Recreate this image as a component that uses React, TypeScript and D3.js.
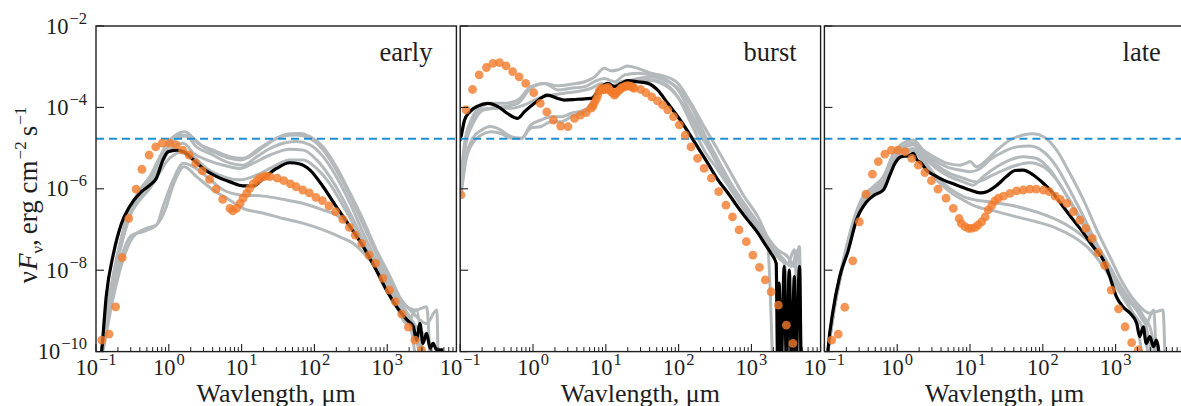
import React from 'react';
import * as d3 from 'd3';

type P = [number, number]; // [log10 wavelength (μm), log10 νFν (erg cm^-2 s^-1)]

const panelLabels = ['early', 'burst', 'late'];
const thresholdFlux = 1.7e-5;
const xMajorExps = [-1, 0, 1, 2, 3];
const yMajorExps = [-2, -4, -6, -8, -10];

// ---------- early ----------
const earlyMedian: P[] = [
  [-0.95, -10.5], [-0.92, -9.96], [-0.86, -8.65], [-0.76, -7.59], [-0.65, -6.85], [-0.54, -6.44], [-0.40, -6.11],
  [-0.26, -5.91], [-0.17, -5.74], [-0.08, -5.29], [-0.01, -5.09], [0.11, -5.05], [0.20, -5.09], [0.34, -5.29],
  [0.47, -5.50], [0.66, -5.70], [0.84, -5.83], [1.02, -5.93], [1.16, -5.93], [1.30, -5.74], [1.48, -5.50],
  [1.66, -5.36], [1.80, -5.39], [1.94, -5.54], [2.12, -5.95], [2.30, -6.44], [2.49, -6.93], [2.67, -7.42],
  [2.85, -8.00], [2.99, -8.49], [3.13, -8.90], [3.27, -9.22], [3.36, -9.39], [3.40, -9.72], [3.45, -9.31],
  [3.49, -9.80], [3.54, -9.55], [3.59, -9.92], [3.63, -9.80], [3.68, -9.96], [3.77, -9.96],
];
const earlyObs: P[] = [
  [-0.92, -9.72], [-0.82, -9.57], [-0.73, -8.90], [-0.64, -7.69], [-0.55, -6.73], [-0.45, -6.01], [-0.37, -5.52],
  [-0.27, -5.17], [-0.18, -4.97], [-0.09, -4.88], [0.01, -4.88], [0.10, -4.92], [0.19, -5.05], [0.28, -5.17],
  [0.37, -5.37], [0.46, -5.56], [0.56, -5.77], [0.65, -6.01], [0.74, -6.26], [0.84, -6.48],
  [0.88, -6.54], [0.93, -6.48], [0.98, -6.36], [1.02, -6.23], [1.07, -6.11], [1.11, -5.99], [1.16, -5.88],
  [1.21, -5.80], [1.25, -5.74], [1.30, -5.70], [1.34, -5.69], [1.39, -5.70],
  [1.49, -5.74], [1.58, -5.80], [1.67, -5.88], [1.75, -5.95], [1.84, -6.03], [1.93, -6.10], [2.02, -6.21],
  [2.11, -6.29], [2.20, -6.42], [2.29, -6.56], [2.39, -6.75], [2.48, -6.95], [2.56, -7.14], [2.65, -7.34],
  [2.75, -7.63], [2.84, -7.83], [2.94, -8.20], [3.03, -8.49], [3.11, -8.77], [3.20, -9.08], [3.29, -9.40],
  [3.38, -9.72], [3.47, -9.96],
];
const earlyModels: P[][] = [
  [[-0.92, -9.96], [-0.81, -8.65], [-0.67, -7.34], [-0.54, -6.52], [-0.40, -6.03], [-0.26, -5.70], [-0.12, -5.21], [0.01, -4.84], [0.15, -4.62], [0.22, -4.60], [0.34, -4.76], [0.47, -4.97], [0.66, -5.13], [0.84, -5.25], [0.98, -5.29], [1.11, -5.21], [1.30, -4.97], [1.48, -4.76], [1.66, -4.65], [1.80, -4.64], [1.94, -4.72], [2.12, -4.97], [2.30, -5.46], [2.49, -6.11], [2.67, -6.77], [2.85, -7.50], [3.04, -8.16], [3.17, -8.65], [3.36, -9.06], [3.54, -9.31], [3.68, -8.98], [3.70, -10.3]],
  [[-0.92, -9.96], [-0.81, -8.65], [-0.67, -7.42], [-0.54, -6.60], [-0.40, -6.11], [-0.26, -5.78], [-0.12, -5.29], [0.01, -4.92], [0.15, -4.72], [0.24, -4.70], [0.38, -4.97], [0.56, -5.13], [0.84, -5.37], [1.02, -5.42], [1.21, -5.21], [1.39, -5.01], [1.57, -4.88], [1.75, -4.84], [1.94, -4.92], [2.12, -5.21], [2.30, -5.70], [2.49, -6.36], [2.67, -7.09], [2.85, -7.75], [3.04, -8.32], [3.22, -8.90], [3.40, -9.39], [3.59, -9.80], [3.63, -10.3]],
  [[-0.92, -9.96], [-0.81, -8.73], [-0.67, -7.50], [-0.54, -6.69], [-0.40, -6.19], [-0.26, -5.91], [-0.12, -5.46], [0.01, -5.05], [0.20, -4.88], [0.34, -5.13], [0.52, -5.29], [0.75, -5.42], [0.98, -5.50], [1.16, -5.37], [1.39, -5.17], [1.66, -5.03], [1.85, -5.05], [2.03, -5.29], [2.21, -5.70], [2.40, -6.28], [2.58, -6.93], [2.76, -7.59], [2.95, -8.16], [3.13, -8.73], [3.31, -9.31], [3.45, -9.80], [3.52, -10.3]],
  [[-0.90, -9.96], [-0.76, -8.65], [-0.63, -7.75], [-0.49, -7.18], [-0.31, -6.97], [-0.17, -6.89], [-0.08, -6.44], [0.06, -5.78], [0.20, -5.37], [0.34, -5.46], [0.52, -5.70], [0.75, -6.03], [0.98, -6.15], [1.30, -6.18], [1.57, -6.26], [1.85, -6.36], [2.12, -6.52], [2.30, -6.64], [2.49, -6.93], [2.67, -7.34], [2.85, -7.83], [3.04, -8.32], [3.22, -8.90], [3.36, -9.39], [3.47, -10.3]],
  [[-0.92, -9.96], [-0.79, -8.73], [-0.65, -7.67], [-0.51, -7.14], [-0.35, -7.05], [-0.17, -6.89], [-0.05, -6.52], [0.06, -5.91], [0.21, -5.46], [0.38, -5.70], [0.61, -6.03], [0.84, -6.28], [1.02, -6.48], [1.30, -6.60], [1.57, -6.73], [1.85, -6.85], [2.12, -7.01], [2.35, -7.18], [2.53, -7.34], [2.72, -7.67], [2.90, -8.08], [3.08, -8.57], [3.22, -8.98], [3.33, -9.47], [3.40, -10.3]],
  [[-0.92, -9.96], [-0.81, -8.73], [-0.67, -7.50], [-0.54, -6.69], [-0.40, -6.28], [-0.26, -5.99], [-0.12, -5.58], [0.01, -5.25], [0.20, -5.09], [0.34, -5.21], [0.52, -5.50], [0.75, -5.70], [0.98, -5.78], [1.21, -5.66], [1.43, -5.46], [1.66, -5.29], [1.85, -5.29], [2.03, -5.50], [2.21, -5.87], [2.40, -6.44], [2.58, -7.01], [2.76, -7.67], [2.95, -8.24], [3.13, -8.90], [3.27, -9.31], [3.40, -8.98], [3.49, -10.3]],
  [[-0.92, -9.96], [-0.81, -8.57], [-0.67, -7.34], [-0.54, -6.52], [-0.40, -6.07], [-0.26, -5.74], [-0.12, -5.21], [0.01, -4.80], [0.15, -4.68], [0.29, -4.72], [0.43, -4.92], [0.61, -5.05], [0.84, -5.21], [1.02, -5.25], [1.21, -5.05], [1.39, -4.84], [1.57, -4.70], [1.75, -4.68], [1.94, -4.76], [2.12, -5.05], [2.30, -5.54], [2.49, -6.19], [2.67, -6.89], [2.85, -7.59], [3.04, -8.24], [3.22, -8.81], [3.40, -8.98], [3.54, -8.90], [3.59, -10.3]],
];

// ---------- burst ----------
const burstMedian: P[] = [
  [-1.01, -4.84], [-0.99, -4.72], [-0.94, -4.31], [-0.87, -4.11], [-0.76, -3.97], [-0.62, -3.90], [-0.48, -3.98],
  [-0.35, -4.15], [-0.21, -4.27], [-0.12, -4.11], [0.02, -3.90], [0.20, -3.70], [0.34, -3.78], [0.43, -3.82],
  [0.61, -3.80], [0.80, -3.78], [0.94, -3.49], [1.03, -3.41], [1.12, -3.49], [1.21, -3.41], [1.30, -3.34],
  [1.44, -3.37], [1.58, -3.41], [1.71, -3.57], [1.85, -3.90], [1.99, -4.23], [2.13, -4.60], [2.26, -4.97],
  [2.40, -5.37], [2.54, -5.78], [2.68, -6.11], [2.81, -6.44], [2.95, -6.77], [3.09, -7.09], [3.18, -7.34],
  [3.27, -7.59], [3.34, -7.83], [3.36, -10.3], [3.38, -8.32], [3.41, -10.3], [3.45, -7.91], [3.48, -10.3],
  [3.52, -8.00], [3.55, -10.3], [3.59, -8.16], [3.61, -10.3], [3.66, -7.91], [3.68, -10.3],
];
const burstObs: P[] = [
  [-0.99, -6.15], [-0.92, -4.06], [-0.83, -3.56], [-0.74, -3.20], [-0.64, -3.02], [-0.55, -2.92], [-0.46, -2.90],
  [-0.37, -2.98], [-0.28, -3.12], [-0.19, -3.25], [-0.10, -3.41], [0.01, -3.64], [0.10, -3.90], [0.19, -4.11],
  [0.28, -4.31], [0.38, -4.46], [0.48, -4.47], [0.57, -4.27], [0.65, -4.19], [0.73, -4.13], [0.80, -4.02],
  [0.82, -3.97], [0.84, -3.90], [0.87, -3.80], [0.89, -3.70], [0.91, -3.59], [0.94, -3.53], [0.96, -3.56],
  [0.98, -3.57], [1.00, -3.53], [1.03, -3.51], [1.05, -3.56], [1.07, -3.61], [1.10, -3.65], [1.12, -3.70],
  [1.14, -3.65], [1.16, -3.61], [1.19, -3.57], [1.21, -3.53], [1.23, -3.51], [1.26, -3.49], [1.28, -3.47],
  [1.30, -3.47], [1.32, -3.47], [1.35, -3.49], [1.37, -3.51], [1.39, -3.53],
  [1.48, -3.56], [1.55, -3.64], [1.63, -3.74], [1.71, -3.84], [1.78, -3.94], [1.85, -4.06], [1.93, -4.23],
  [2.01, -4.43], [2.09, -4.68], [2.17, -4.97], [2.26, -5.25], [2.35, -5.50], [2.45, -5.74], [2.55, -6.07],
  [2.65, -6.40], [2.74, -6.69], [2.83, -7.01], [2.93, -7.30], [3.02, -7.63], [3.11, -7.93], [3.19, -8.24],
  [3.27, -8.53], [3.37, -8.86], [3.48, -9.35], [3.57, -9.80],
];
const burstModels: P[][] = [
  [[-0.99, -6.03], [-0.94, -5.05], [-0.85, -4.39], [-0.71, -4.06], [-0.58, -4.02], [-0.39, -3.98], [-0.21, -3.90], [-0.03, -3.53], [0.16, -3.41], [0.34, -3.47], [0.52, -3.43], [0.71, -3.37], [0.84, -3.26], [0.98, -3.04], [1.07, -3.10], [1.16, -3.08], [1.30, -2.98], [1.44, -3.04], [1.62, -3.16], [1.80, -3.23], [1.99, -3.41], [2.17, -3.90], [2.35, -4.47], [2.54, -5.05], [2.72, -5.62], [2.90, -6.19], [3.09, -6.69], [3.22, -7.18], [3.36, -7.50], [3.50, -7.67], [3.59, -7.91], [3.66, -7.42], [3.68, -10.3]],
  [[-0.99, -5.70], [-0.94, -4.88], [-0.85, -4.31], [-0.71, -3.98], [-0.58, -3.90], [-0.39, -3.90], [-0.21, -3.82], [-0.03, -3.49], [0.16, -3.41], [0.34, -3.57], [0.52, -3.53], [0.71, -3.49], [0.84, -3.37], [0.98, -3.29], [1.12, -3.37], [1.26, -3.20], [1.44, -3.16], [1.62, -3.20], [1.80, -3.29], [1.99, -3.57], [2.17, -4.15], [2.35, -4.72], [2.54, -5.29], [2.72, -5.87], [2.90, -6.36], [3.09, -6.85], [3.22, -7.26], [3.36, -7.67], [3.50, -7.83], [3.59, -7.50], [3.64, -10.3]],
  [[-0.99, -6.03], [-0.92, -5.21], [-0.83, -4.76], [-0.71, -4.56], [-0.58, -4.47], [-0.44, -4.56], [-0.30, -4.72], [-0.16, -4.76], [-0.03, -4.43], [0.11, -4.31], [0.25, -4.23], [0.39, -4.23], [0.52, -4.15], [0.71, -4.06], [0.84, -3.82], [0.98, -3.49], [1.12, -3.65], [1.26, -3.45], [1.44, -3.37], [1.62, -3.33], [1.80, -3.41], [1.99, -3.74], [2.17, -4.39], [2.35, -5.05], [2.54, -5.54], [2.72, -6.03], [2.90, -6.52], [3.09, -7.01], [3.22, -7.34], [3.29, -10.3]],
  [[-0.99, -6.19], [-0.92, -5.29], [-0.83, -4.88], [-0.71, -4.68], [-0.58, -4.60], [-0.44, -4.64], [-0.30, -4.76], [-0.16, -4.76], [-0.03, -4.51], [0.11, -4.47], [0.25, -4.35], [0.39, -4.35], [0.52, -4.23], [0.71, -4.11], [0.84, -3.86], [0.98, -3.49], [1.12, -3.65], [1.26, -3.41], [1.44, -3.29], [1.62, -3.25], [1.80, -3.33], [1.99, -3.53], [2.17, -3.98], [2.35, -4.64], [2.54, -5.29], [2.72, -5.95], [2.90, -6.44], [3.09, -6.93], [3.27, -7.42], [3.41, -7.67], [3.55, -7.91], [3.64, -7.50], [3.68, -10.3]],
  [[-0.99, -5.87], [-0.92, -4.88], [-0.81, -4.35], [-0.67, -4.06], [-0.48, -4.02], [-0.30, -4.02], [-0.12, -3.94], [0.07, -3.78], [0.25, -3.70], [0.43, -3.65], [0.61, -3.61], [0.80, -3.53], [0.94, -3.41], [1.07, -3.49], [1.21, -3.37], [1.35, -3.33], [1.53, -3.31], [1.71, -3.37], [1.90, -3.57], [2.08, -3.98], [2.26, -4.56], [2.45, -5.13], [2.63, -5.70], [2.81, -6.19], [3.00, -6.69], [3.18, -7.18], [3.32, -7.59], [3.45, -7.83], [3.55, -10.3]],
];

// ---------- late ----------
const lateMedian: P[] = [
  [-0.97, -10.5], [-0.95, -9.96], [-0.88, -8.98], [-0.79, -8.16], [-0.67, -7.50], [-0.56, -6.77], [-0.42, -6.32],
  [-0.31, -6.15], [-0.19, -6.03], [-0.10, -5.66], [-0.03, -5.37], [0.06, -5.21], [0.15, -5.19], [0.22, -5.13],
  [0.27, -5.29], [0.33, -5.37], [0.40, -5.54], [0.50, -5.66], [0.63, -5.78], [0.82, -5.91], [1.00, -6.03],
  [1.14, -6.10], [1.23, -6.07], [1.37, -5.91], [1.50, -5.70], [1.62, -5.55], [1.73, -5.54], [1.87, -5.66],
  [2.01, -5.87], [2.14, -6.11], [2.28, -6.44], [2.42, -6.77], [2.56, -7.09], [2.69, -7.42], [2.83, -7.75],
  [2.92, -8.16], [3.01, -8.65], [3.10, -8.90], [3.20, -9.06], [3.29, -9.31], [3.33, -9.63], [3.38, -9.39],
  [3.42, -9.80], [3.47, -9.63], [3.52, -9.88], [3.56, -9.72], [3.59, -9.96], [3.61, -10.6],
];
const lateObs: P[] = [
  [-0.90, -9.72], [-0.81, -9.57], [-0.72, -8.91], [-0.61, -7.77], [-0.52, -6.81], [-0.43, -6.13], [-0.34, -5.64],
  [-0.26, -5.33], [-0.17, -5.15], [-0.08, -5.05], [0.01, -5.05], [0.11, -5.09], [0.20, -5.25], [0.29, -5.42],
  [0.38, -5.60], [0.47, -5.80], [0.56, -6.01], [0.67, -6.23], [0.77, -6.48], [0.85, -6.73], [0.88, -6.85],
  [0.93, -6.93], [0.98, -6.97], [1.02, -6.97], [1.07, -6.95], [1.11, -6.89], [1.16, -6.81], [1.21, -6.69],
  [1.25, -6.52], [1.30, -6.40], [1.34, -6.30], [1.39, -6.23], [1.46, -6.18], [1.55, -6.11], [1.64, -6.05],
  [1.73, -6.03], [1.82, -6.01], [1.91, -6.01], [2.01, -6.03], [2.09, -6.07], [2.17, -6.18], [2.24, -6.26],
  [2.33, -6.36], [2.42, -6.56], [2.51, -6.77], [2.59, -6.97], [2.68, -7.22], [2.76, -7.57], [2.85, -7.88],
  [2.94, -8.49], [3.04, -8.95], [3.13, -9.39], [3.22, -9.78], [3.31, -9.96],
];
const lateModels: P[][] = [
  [[-0.95, -9.96], [-0.86, -8.81], [-0.74, -7.75], [-0.60, -6.77], [-0.47, -6.19], [-0.33, -5.95], [-0.19, -5.70], [-0.05, -5.13], [0.08, -4.88], [0.22, -4.80], [0.36, -5.05], [0.50, -5.21], [0.68, -5.37], [0.86, -5.42], [0.95, -5.37], [1.00, -5.33], [1.09, -5.46], [1.23, -5.29], [1.37, -5.05], [1.55, -4.80], [1.73, -4.68], [1.87, -4.65], [2.01, -4.72], [2.19, -5.05], [2.37, -5.62], [2.56, -6.28], [2.74, -7.01], [2.92, -7.67], [3.10, -8.32], [3.29, -8.81], [3.47, -9.06], [3.65, -8.98], [3.68, -10.3]],
  [[-0.95, -9.96], [-0.86, -8.90], [-0.74, -7.83], [-0.60, -6.85], [-0.47, -6.23], [-0.33, -6.03], [-0.19, -5.78], [-0.05, -5.21], [0.08, -4.97], [0.22, -4.88], [0.36, -5.13], [0.50, -5.29], [0.68, -5.46], [0.86, -5.54], [1.00, -5.58], [1.14, -5.50], [1.27, -5.29], [1.46, -5.09], [1.64, -4.97], [1.82, -4.95], [2.01, -5.09], [2.19, -5.46], [2.37, -6.03], [2.56, -6.69], [2.74, -7.34], [2.92, -7.91], [3.10, -8.49], [3.29, -8.98], [3.47, -9.39], [3.56, -10.3]],
  [[-0.95, -9.96], [-0.86, -8.90], [-0.74, -7.83], [-0.60, -6.85], [-0.47, -6.28], [-0.33, -6.07], [-0.19, -5.83], [-0.05, -5.29], [0.08, -5.01], [0.22, -4.92], [0.36, -5.21], [0.54, -5.50], [0.72, -5.70], [0.91, -5.83], [1.04, -5.91], [1.18, -5.70], [1.37, -5.46], [1.55, -5.29], [1.73, -5.21], [1.91, -5.25], [2.10, -5.54], [2.28, -6.03], [2.46, -6.60], [2.65, -7.18], [2.83, -7.67], [3.01, -8.24], [3.20, -8.73], [3.38, -9.14], [3.52, -10.3]],
  [[-0.95, -9.96], [-0.86, -8.90], [-0.74, -7.83], [-0.60, -6.85], [-0.47, -6.28], [-0.33, -6.07], [-0.19, -5.91], [-0.05, -5.37], [0.08, -5.09], [0.22, -5.01], [0.36, -5.29], [0.54, -5.70], [0.72, -5.99], [0.91, -6.19], [1.09, -6.28], [1.27, -6.32], [1.55, -6.40], [1.82, -6.52], [2.10, -6.69], [2.33, -6.89], [2.56, -7.18], [2.74, -7.50], [2.92, -7.99], [3.10, -8.57], [3.24, -9.06], [3.38, -9.47], [3.47, -10.3]],
  [[-0.95, -9.96], [-0.86, -8.90], [-0.74, -7.83], [-0.60, -6.85], [-0.47, -6.32], [-0.33, -6.11], [-0.19, -5.95], [-0.05, -5.42], [0.08, -5.13], [0.22, -5.05], [0.36, -5.37], [0.54, -5.78], [0.72, -6.07], [0.91, -6.28], [1.09, -6.44], [1.37, -6.56], [1.64, -6.69], [1.91, -6.81], [2.19, -6.97], [2.42, -7.18], [2.65, -7.50], [2.83, -7.91], [3.01, -8.41], [3.15, -8.81], [3.29, -9.31], [3.38, -10.3]],
  [[-0.95, -9.96], [-0.86, -8.85], [-0.74, -7.79], [-0.60, -6.81], [-0.47, -6.23], [-0.33, -6.03], [-0.19, -5.74], [-0.05, -5.21], [0.08, -4.97], [0.22, -4.88], [0.36, -5.13], [0.54, -5.42], [0.72, -5.62], [0.91, -5.74], [1.09, -5.83], [1.27, -5.70], [1.46, -5.54], [1.64, -5.42], [1.82, -5.36], [2.01, -5.46], [2.19, -5.78], [2.37, -6.28], [2.56, -6.85], [2.74, -7.42], [2.92, -7.99], [3.10, -8.57], [3.29, -8.98], [3.42, -9.31], [3.52, -8.98], [3.56, -10.3]],
];

const panels = [
  { label: panelLabels[0], models: earlyModels, median: earlyMedian, obs: earlyObs },
  { label: panelLabels[1], models: burstModels, median: burstMedian, obs: burstObs },
  { label: panelLabels[2], models: lateModels, median: lateMedian, obs: lateObs },
];

const W = 1181;
const H = 406;
const panelLeft0 = 96;
const panelStep = 364.2;
const panelW = 360.4;
const top = 26;
const bottom = 351.6;
const FONT = '"Liberation Serif", "Times New Roman", serif';
const GRAY = '#b4b9bb';
const ORANGE = 'rgb(243,122,42)';
const BLUE = '#1f8fd3';
const INK = '#1e1e1e';

const yScale = d3.scaleLog().domain([1e-10, 1e-2]).range([bottom, top]);

function Pow({ x, y, exp, anchor }: { x: number; y: number; exp: number; anchor: string }) {
  const s = exp < 0 ? '\u2212' + Math.abs(exp) : String(exp);
  return (
    <text x={x} y={y} textAnchor={anchor} fontFamily={FONT} fontSize={22.5} fill={INK}>
      10<tspan dx={1} dy={-10} fontSize={16.5}>{s}</tspan>
    </text>
  );
}

function Panel({ idx, data }: { idx: number; data: typeof panels[number] }) {
  const left = panelLeft0 + idx * panelStep;
  const right = left + panelW;
  const x = d3.scaleLog().domain([0.1, Math.pow(10, 3.95)]).range([left, right]);
  const line = d3
    .line<P>()
    .x((d) => x(Math.pow(10, d[0])))
    .y((d) => yScale(Math.pow(10, d[1])))
    .curve(d3.curveMonotoneX);
  const clipId = `clip-${idx}`;
  const minor: number[] = [];
  for (let e = -1; e <= 3; e++) {
    for (let m = 2; m <= 9; m++) {
      const v = m * Math.pow(10, e);
      if (v < Math.pow(10, 3.95)) minor.push(v);
    }
  }
  return (
    <g>
      <defs>
        <clipPath id={clipId}>
          <rect x={left} y={top} width={panelW} height={bottom - top} />
        </clipPath>
      </defs>
      <g clipPath={`url(#${clipId})`}>
        {data.models.map((m, i) => (
          <path key={i} d={line(m) || ''} fill="none" stroke={GRAY} strokeWidth={3} strokeLinejoin="round" />
        ))}
        <path d={line(data.median) || ''} fill="none" stroke="#000" strokeWidth={3.2} strokeLinejoin="round" />
        <line
          x1={left}
          x2={right}
          y1={yScale(thresholdFlux)}
          y2={yScale(thresholdFlux)}
          stroke={BLUE}
          strokeWidth={2}
          strokeDasharray="8,5"
        />
        {data.obs.map((d, i) => (
          <circle key={i} cx={x(Math.pow(10, d[0]))} cy={yScale(Math.pow(10, d[1]))} r={4.4} fill={ORANGE} fillOpacity={0.8} />
        ))}
      </g>
      {minor.map((v, i) => (
        <line key={'mn' + i} x1={x(v)} x2={x(v)} y1={bottom} y2={bottom - 4.5} stroke={INK} strokeWidth={1} />
      ))}
      {xMajorExps.map((e) => (
        <line key={'mj' + e} x1={x(Math.pow(10, e))} x2={x(Math.pow(10, e))} y1={bottom} y2={bottom - 7.5} stroke={INK} strokeWidth={1.1} />
      ))}
      {yMajorExps.map((e) => (
        <line key={'yt' + e} x1={left} x2={left + 8} y1={yScale(Math.pow(10, e))} y2={yScale(Math.pow(10, e))} stroke={INK} strokeWidth={1.1} />
      ))}
      <rect x={left} y={top} width={panelW} height={bottom - top} fill="none" stroke={INK} strokeWidth={1.4} />
      {xMajorExps.map((e) => (
        <Pow key={'xl' + e} x={x(Math.pow(10, e))} y={375} exp={e} anchor="middle" />
      ))}
      <text x={(left + right) / 2} y={401.5} textAnchor="middle" fontFamily={FONT} fontSize={26} fill={INK}>
        Wavlength, μm
      </text>
      <text x={right - 24} y={61} textAnchor="end" fontFamily={FONT} fontSize={26.5} fill={INK}>
        {data.label}
      </text>
    </g>
  );
}

export default function App() {
  return (
    <svg width={W} height={H} viewBox={`0 0 ${W} ${H}`} style={{ position: 'absolute', left: 0, top: 0, background: '#fff' }}>
      <rect x={0} y={0} width={W} height={H} fill="#fff" />
      {panels.map((p, i) => (
        <Panel key={i} idx={i} data={p} />
      ))}
      {yMajorExps.map((e) => (
        <Pow key={'yl' + e} x={87} y={yScale(Math.pow(10, e)) + 7.5} exp={e} anchor="end" />
      ))}
      <text transform={`translate(37,195) rotate(-90)`} textAnchor="middle" fontFamily={FONT} fontSize={27} fill={INK}>
        ν<tspan fontStyle="italic" dx={1}>F</tspan>
        <tspan dy={6} fontSize={17}>ν</tspan>
        <tspan dy={-6}>,</tspan>
        <tspan dx={5}>erg cm</tspan>
        <tspan dx={1} dy={-11} fontSize={17}>−2</tspan>
        <tspan dx={5} dy={11}>s</tspan>
        <tspan dx={1} dy={-11} fontSize={17}>−1</tspan>
      </text>
    </svg>
  );
}
